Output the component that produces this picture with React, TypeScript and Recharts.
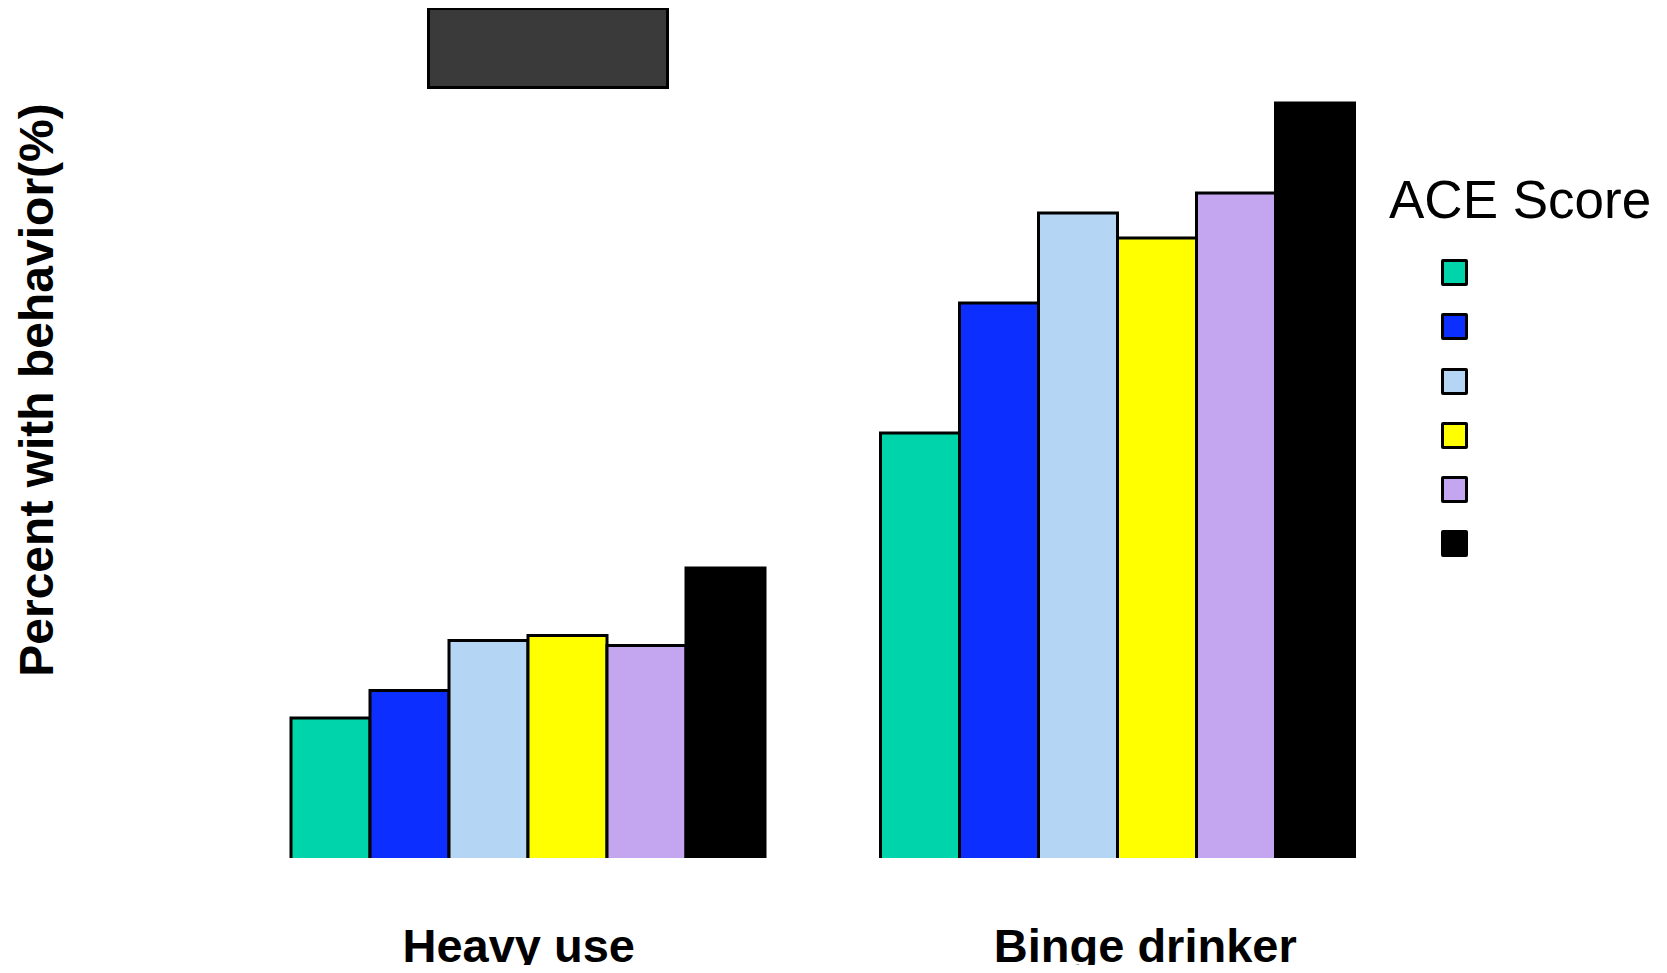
import React from "react";
import { BarChart, Bar, XAxis, YAxis } from "recharts";

const categories = ["Heavy use", "Binge drinker"];
const aceLevels = ["0", "1", "2", "3", "4", "5+"];
const ace0 = [5.6, 17.0];
const ace1 = [6.7, 22.2];
const ace2 = [8.7, 25.8];
const ace3 = [8.9, 24.8];
const ace4 = [8.5, 26.6];
const ace5 = [11.6, 30.2];
const colors = ["#00d4aa", "#0c2eff", "#b4d5f3", "#ffff00", "#c3a5f0", "#000000"];

const seriesValues = [ace0, ace1, ace2, ace3, ace4, ace5];
const data = categories.map((name, i) => {
  const row: Record<string, string | number> = { name };
  aceLevels.forEach((lvl, j) => {
    row["ace" + j] = seriesValues[j][i];
  });
  return row;
});

const FONT = "Liberation Sans, Arial, sans-serif";

// bars have no bottom edge, only left/top/right outline
const OpenBar = (props: any) => {
  const { x, y, width, height, fill } = props;
  if (!height) return null;
  return (
    <g>
      <rect x={x} y={y} width={width} height={height} fill={fill} />
      <path
        d={`M${x},${y + height} L${x},${y} L${x + width},${y} L${x + width},${y + height}`}
        fill="none"
        stroke="#000"
        strokeWidth={3}
      />
    </g>
  );
};

const CategoryTick = (props: any) => {
  const { x, y, payload, index } = props;
  const shift = index === 0 ? -10 : 27; // labels sit slightly off-centre in the original
  return (
    <text
      x={x + shift}
      y={y + 104}
      textAnchor="middle"
      fontFamily={FONT}
      fontWeight="bold"
      fontSize={47}
      fill="#000"
    >
      {payload.value}
    </text>
  );
};

const AceLegend = () => (
  <div style={{ position: "absolute", left: 1381, top: 165, width: 270, fontFamily: FONT }}>
    <div style={{ fontSize: 53, lineHeight: "53px", color: "#000", whiteSpace: "nowrap" }}>ACE Score</div>
    <div style={{ marginTop: 33, paddingLeft: 52 }}>
      {aceLevels.map((lvl, j) => (
        <div
          key={lvl}
          style={{
            width: 21,
            height: 21,
            background: colors[j],
            border: "3px solid #000",
            borderRadius: 2,
            marginBottom: 27.3,
          }}
        />
      ))}
    </div>
  </div>
);

export default function App() {
  return (
    <div style={{ position: "relative", width: 1650, height: 957 }}>
      <style>{`.recharts-surface { overflow: visible; }`}</style>
      <BarChart
        width={1650}
        height={957}
        data={data}
        margin={{ top: 50, right: 245, bottom: 47, left: 226 }}
        barCategoryGap={57}
        barGap={0}
      >
        <XAxis
          dataKey="name"
          axisLine={false}
          tickLine={false}
          tickSize={0}
          tickMargin={0}
          height={60}
          tick={<CategoryTick />}
          interval={0}
        />
        <YAxis hide domain={[0, 32]} />
        {aceLevels.map((lvl, j) => (
          <Bar
            key={lvl}
            dataKey={"ace" + j}
            name={lvl}
            fill={colors[j]}
            shape={<OpenBar />}
            isAnimationActive={false}
          />
        ))}
        <text
          x={45}
          y={382}
          transform="rotate(-90, 45, 382)"
          textAnchor="middle"
          fontFamily={FONT}
          fontWeight="bold"
          fontSize={48}
          fill="#000"
        >
          Percent with behavior(%)
        </text>
      </BarChart>
      <AceLegend />
      <div
        style={{
          position: "absolute",
          left: 419,
          top: -1,
          width: 236,
          height: 76,
          background: "#3a3a3a",
          border: "3px solid #000",
        }}
      />
    </div>
  );
}
